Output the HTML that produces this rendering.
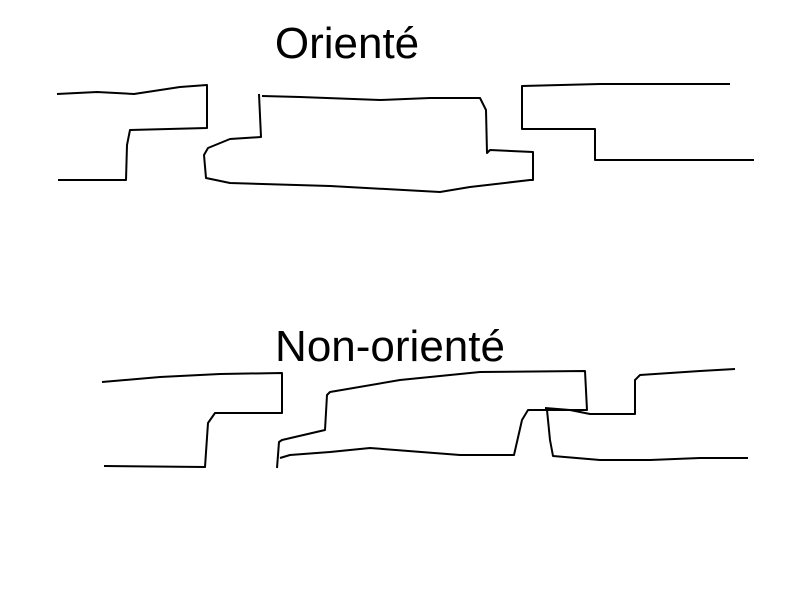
<!DOCTYPE html>
<html><head><meta charset="utf-8"><style>
html,body{margin:0;padding:0;background:#fff;width:800px;height:600px;overflow:hidden}
svg{display:block}
text{font-family:"Liberation Sans",sans-serif;font-size:44px;fill:#000}
path{fill:none;stroke:#000;stroke-width:2;stroke-linejoin:round}
</style></head><body>
<svg width="800" height="600" viewBox="0 0 800 600">
<text x="347" y="58" text-anchor="middle">Orienté</text>
<text x="390" y="361" text-anchor="middle">Non-orienté</text>
<path d="M57,94 L97,92 L134,94 L180,87 L207,85 L207,128 L130,130 L127,145 L126,180 L58,180"/>
<path d="M259,94 L261,137 L230,139 L208,148 L204,155 L206,178 L230,183 L330,186 L440,192 L470,187 L530,180 L533,180 L533,152 L490,150 L487,153 L486,110 L480,98 L430,98 L380,100 L300,97 L262,96"/>
<path d="M730,84 L600,84 L522,86 L522,129 L595,129 L595,160 L754,160"/>
<path d="M102,382 L160,377 L220,374 L282,373 L282,413 L215,413 L208,423 L205,467 L104,466"/>
<path d="M277,468 L279,442 L282,440 L325,430 L327,395 L330,392 L400,380 L480,372 L585,371 L587,410 L528,410 L522,420 L514,455 L460,455 L370,448 L330,452 L290,455 L280,458"/>
<path d="M545,408 L570,410 L590,414 L635,414 L635,380 L640,375 L700,371 L735,369"/>
<path d="M547,410 L550,440 L553,456 L600,460 L650,460 L700,458 L748,458"/>
</svg>
</body></html>
